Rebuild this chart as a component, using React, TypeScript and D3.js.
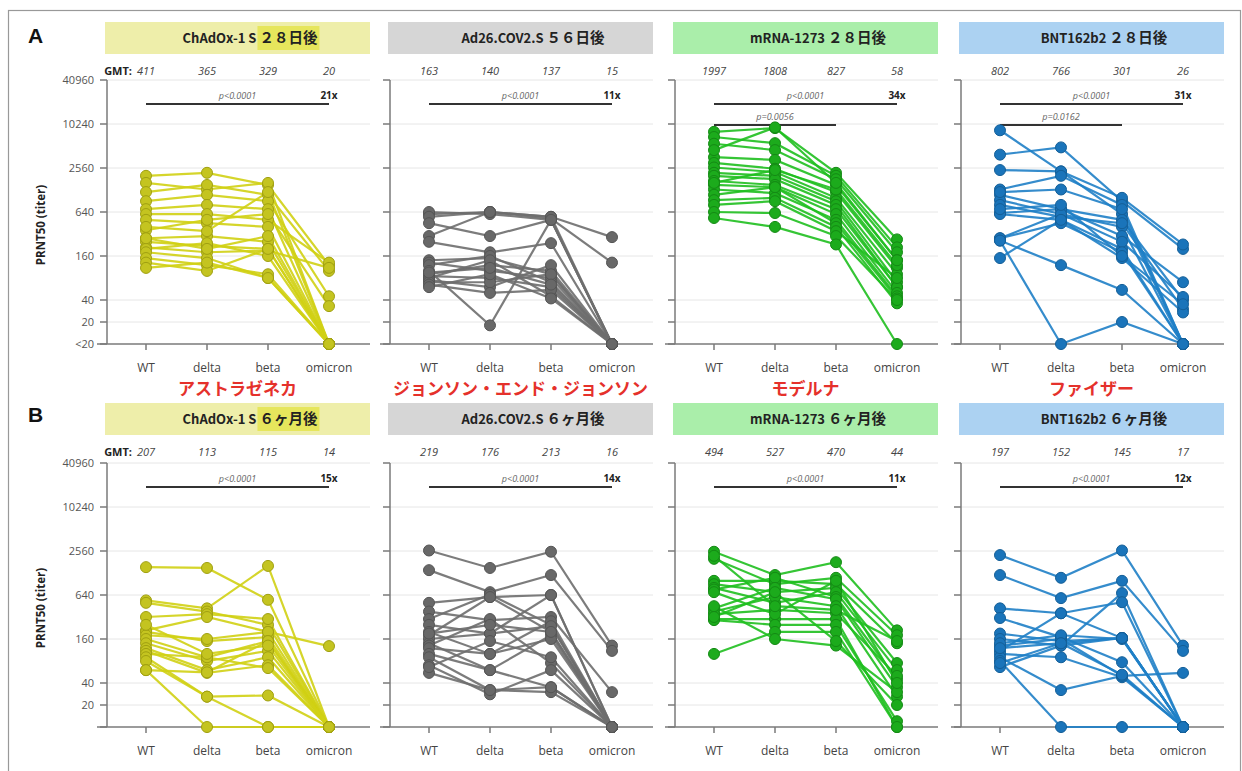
import React, { useEffect, useRef } from 'react';
import * as d3 from 'd3';

const categories = ['WT', 'delta', 'beta', 'omicron'];
const tickValues = [40960, 10240, 2560, 640, 160, 40, 20, 10];
const tickLabelsA = ['40960', '10240', '2560', '640', '160', '40', '20', '<20'];
const tickLabelsB = ['40960', '10240', '2560', '640', '160', '40', '20', ''];

const vaccines = ['ChAdOx-1 S', 'Ad26.COV2.S', 'mRNA-1273', 'BNT162b2'];
const timingA = ['２８日後', '５６日後', '２８日後', '２８日後'];
const timingB = ['６ヶ月後', '６ヶ月後', '６ヶ月後', '６ヶ月後'];
const makers = ['アストラゼネカ', 'ジョンソン・エンド・ジョンソン', 'モデルナ', 'ファイザー'];

const gmtA = [[411, 365, 329, 20], [163, 140, 137, 15], [1997, 1808, 827, 58], [802, 766, 301, 26]];
const gmtB = [[207, 113, 115, 14], [219, 176, 213, 16], [494, 527, 470, 44], [197, 152, 145, 17]];
const foldA = ['21x', '11x', '34x', '31x'];
const foldB = ['15x', '14x', '11x', '12x'];
const pMainA = ['p<0.0001', 'p<0.0001', 'p<0.0001', 'p<0.0001'];
const pMainB = ['p<0.0001', 'p<0.0001', 'p<0.0001', 'p<0.0001'];
const pSecondA = ['', '', 'p=0.0056', 'p=0.0162'];

// titers per subject: WT, delta, beta, omicron (<20 plotted as 10)
const chadox28 = [
  [2000, 2200, 1500, 120], [1600, 1300, 1600, 10], [1200, 1500, 1100, 100], [900, 1100, 900, 45],
  [700, 800, 700, 10], [600, 600, 500, 130], [500, 450, 400, 10], [360, 500, 600, 33],
  [280, 300, 250, 10], [250, 220, 200, 10], [210, 180, 190, 110], [200, 240, 160, 10],
  [180, 150, 80, 10], [150, 120, 90, 10], [130, 100, 200, 10], [110, 130, 80, 10],
  [280, 200, 300, 10], [400, 350, 1200, 10],
];
const ad26_56 = [
  [600, 640, 550, 290], [640, 600, 500, 10], [550, 640, 520, 130], [450, 300, 500, 10],
  [300, 640, 550, 10], [250, 180, 240, 10], [140, 150, 90, 10], [130, 100, 80, 10],
  [120, 160, 70, 10], [100, 18, 500, 10], [90, 120, 100, 10], [85, 80, 60, 10],
  [80, 140, 45, 10], [75, 60, 120, 10], [70, 70, 90, 10], [65, 50, 55, 10],
  [60, 90, 42, 10], [95, 110, 65, 10],
];
const mrna28 = [
  [8000, 9000, 2200, 270], [6800, 5600, 2000, 210], [5500, 4500, 1800, 180], [3600, 3300, 1500, 140],
  [3000, 2500, 1200, 110], [2600, 2250, 1000, 90], [2200, 2000, 900, 70], [2000, 1800, 800, 60],
  [1700, 1500, 700, 60], [1500, 1400, 600, 50], [1300, 1160, 500, 45], [1100, 1400, 450, 42],
  [930, 1000, 400, 36], [800, 900, 350, 80], [640, 620, 300, 40], [530, 400, 230, 10],
  [1600, 2400, 1300, 120], [4500, 9200, 1600, 140],
];
const bnt28 = [
  [8400, 2300, 600, 10], [3900, 4900, 900, 200], [2400, 2300, 1000, 230], [1300, 2000, 800, 10],
  [1100, 700, 500, 40], [930, 600, 400, 10], [800, 550, 450, 30], [620, 700, 300, 70],
  [600, 500, 200, 10], [1200, 1300, 700, 10], [280, 600, 250, 44], [280, 450, 180, 10],
  [260, 120, 55, 10], [260, 10, 20, 10], [150, 500, 150, 27], [700, 800, 160, 35],
];
const chadox6m = [
  [1540, 1500, 550, 10], [540, 420, 1600, 10], [500, 380, 250, 10], [320, 350, 300, 10],
  [210, 320, 200, 128], [200, 150, 170, 10], [180, 160, 200, 10], [160, 90, 150, 10],
  [140, 80, 110, 10], [120, 60, 90, 10], [110, 55, 70, 10], [100, 90, 64, 10],
  [90, 26, 27, 10], [80, 26, 10, 10], [60, 10, 10, 10], [60, 56, 150, 10],
  [250, 100, 130, 10],
];
const ad26_6m = [
  [2600, 1500, 2500, 130], [1400, 700, 1200, 110], [500, 600, 640, 10], [380, 290, 320, 30],
  [300, 650, 250, 10], [250, 190, 640, 10], [200, 100, 280, 10], [180, 600, 200, 10],
  [160, 190, 240, 10], [140, 60, 180, 10], [130, 300, 75, 10], [120, 100, 160, 10],
  [100, 60, 35, 10], [90, 32, 30, 10], [70, 28, 60, 10], [55, 32, 35, 10],
  [66, 150, 90, 10], [190, 250, 200, 10],
];
const mrna6m = [
  [2500, 1200, 1800, 210], [2000, 900, 1100, 180], [1000, 1000, 900, 140], [900, 700, 800, 75],
  [800, 500, 700, 60], [760, 1100, 600, 45], [420, 800, 560, 35], [380, 600, 450, 26],
  [350, 400, 360, 50], [300, 300, 300, 10], [290, 250, 250, 12], [100, 200, 200, 10],
  [450, 160, 130, 30], [700, 350, 1000, 40], [320, 700, 150, 20], [2200, 450, 400, 150],
];
const bnt6m = [
  [2250, 1100, 2600, 130], [1200, 580, 1000, 110], [420, 360, 165, 10], [310, 170, 77, 10],
  [190, 150, 165, 10], [160, 130, 680, 10], [130, 160, 50, 55], [110, 360, 510, 10],
  [100, 90, 48, 10], [90, 32, 50, 10], [80, 10, 10, 10], [66, 130, 165, 10],
  [140, 180, 160, 10], [120, 140, 52, 10], [75, 140, 165, 10],
];

const lineColors = ['#d0d014', '#6e6e6e', '#1fbf1f', '#1f7fc6'];
const dotFill = ['#c4c420', '#686868', '#1cab1c', '#1a74ba'];
const dotStroke = ['#a0a010', '#555555', '#148a14', '#145f98'];
const headerFill = ['#eeeeaa', '#d6d6d6', '#aaeeaa', '#acd2f2'];

const panelX = [107, 390, 675, 961];
const sans = '"Open Sans", "Noto Sans", sans-serif';
const jp = '"Noto Sans CJK JP", "Noto Sans", sans-serif';

const App = () => {
  const svgRef = useRef<SVGSVGElement>(null);

  useEffect(() => {
    const svg = d3.select(svgRef.current);
    svg.selectAll('*').remove();

    svg.append('rect').attr('width', 1242).attr('height', 771).attr('fill', '#fff');
    svg.append('rect')
      .attr('x', 8.5).attr('y', 10.5).attr('width', 1232).attr('height', 775)
      .attr('fill', 'none').attr('stroke', '#999').attr('stroke-width', 1.2);

    const rows = [
      { label: 'A', base: 344, data: [chadox28, ad26_56, mrna28, bnt28], gmt: gmtA, fold: foldA, p: pMainA, p2: pSecondA, timing: timingA, ticks: tickLabelsA },
      { label: 'B', base: 727, data: [chadox6m, ad26_6m, mrna6m, bnt6m], gmt: gmtB, fold: foldB, p: pMainB, p2: ['', '', '', ''], timing: timingB, ticks: tickLabelsB },
    ];

    rows.forEach((row, ri) => {
      const off = row.base - 344;
      const g = svg.append('g');

      g.append('text')
        .text(row.label)
        .attr('x', 28).attr('y', 43 + off - (ri ? 4 : 0))
        .attr('font-family', 'Arial, "Liberation Sans", sans-serif')
        .attr('font-weight', 'bold').attr('font-size', 21).attr('fill', '#111');

      g.append('text')
        .text('PRNT50 (titer)')
        .attr('transform', `translate(45,${225 + off}) rotate(-90)`)
        .attr('text-anchor', 'middle')
        .attr('font-family', sans).attr('font-weight', 'bold').attr('font-size', 11.5).attr('fill', '#222');

      row.data.forEach((subjects, p) => {
        const px = panelX[p];
        const x = d3.scalePoint().domain(categories).range([px + 39, px + 222]);
        const y = d3.scaleLog().base(2).domain([10, 40960]).range([row.base, row.base - 264]);

        // header
        g.append('rect')
          .attr('x', px - 2).attr('y', 22 + off - (ri ? 2 : 0)).attr('width', 265).attr('height', 32)
          .attr('fill', headerFill[p]);
        const header = g.append('text')
          .attr('x', px + 143).attr('y', 43 + off - (ri ? 2 : 0))
          .attr('text-anchor', 'middle')
          .attr('font-family', jp).attr('font-weight', 'bold').attr('font-size', 13).attr('fill', '#222');
        header.append('tspan').text(vaccines[p] + ' ');
        header.append('tspan').text(row.timing[p]).attr('font-size', 14.5);
        if (p === 0) {
          const node = header.node() as SVGTextElement;
          const start = vaccines[p].length + 1;
          const end = start + row.timing[p].length - 1;
          try {
            const a = node.getExtentOfChar(start);
            const b = node.getExtentOfChar(end);
            g.insert('rect', () => node)
              .attr('x', a.x - 2).attr('y', 26 + off - (ri ? 2 : 0))
              .attr('width', b.x + b.width - a.x + 4).attr('height', 24)
              .attr('fill', '#e6e65c');
          } catch (e) { /* ignore */ }
        }

        // grid
        tickValues.slice(0, 7).forEach(v => {
          g.append('line')
            .attr('x1', px).attr('x2', px + 263)
            .attr('y1', y(v)).attr('y2', y(v))
            .attr('stroke', '#e6e6e6').attr('stroke-width', 1);
        });

        // y axis
        g.append('line')
          .attr('x1', px).attr('x2', px).attr('y1', y(40960)).attr('y2', row.base)
          .attr('stroke', '#7a7a7a').attr('stroke-width', 1.5);
        tickValues.forEach((v, i) => {
          g.append('line')
            .attr('x1', px - 7).attr('x2', px).attr('y1', y(v)).attr('y2', y(v))
            .attr('stroke', '#7a7a7a').attr('stroke-width', 1.5);
          if (p === 0 && row.ticks[i]) {
            g.append('text')
              .text(row.ticks[i])
              .attr('x', px - 13).attr('y', y(v) + 4)
              .attr('text-anchor', 'end')
              .attr('font-family', sans).attr('font-size', 11).attr('fill', '#555');
          }
        });

        // x axis
        g.append('line')
          .attr('x1', px - 10).attr('x2', px + 263).attr('y1', row.base).attr('y2', row.base)
          .attr('stroke', '#7a7a7a').attr('stroke-width', 1.5);
        categories.forEach(c => {
          g.append('line')
            .attr('x1', x(c)).attr('x2', x(c)).attr('y1', row.base).attr('y2', row.base + 6)
            .attr('stroke', '#7a7a7a').attr('stroke-width', 1.5);
          g.append('text')
            .text(c)
            .attr('x', x(c)).attr('y', row.base + 28)
            .attr('text-anchor', 'middle')
            .attr('font-family', sans).attr('font-size', 12).attr('fill', '#444');
        });

        // GMT row
        if (p === 0) {
          g.append('text')
            .text('GMT:')
            .attr('x', px + 25).attr('y', 75 + off - (ri ? 2 : 0))
            .attr('text-anchor', 'end')
            .attr('font-family', sans).attr('font-weight', 'bold').attr('font-size', 11).attr('fill', '#222');
        }
        categories.forEach((c, i) => {
          g.append('text')
            .text(row.gmt[p][i])
            .attr('x', x(c)).attr('y', 75 + off - (ri ? 2 : 0))
            .attr('text-anchor', 'middle')
            .attr('font-family', sans).attr('font-style', 'italic').attr('font-size', 11).attr('fill', '#444');
        });

        // significance
        const sy = 104 + off;
        g.append('line')
          .attr('x1', x('WT')).attr('x2', x('omicron')).attr('y1', sy).attr('y2', sy)
          .attr('stroke', '#333').attr('stroke-width', 2);
        g.append('text')
          .text(row.p[p])
          .attr('x', (x('WT')! + x('omicron')!) / 2).attr('y', sy - 5)
          .attr('text-anchor', 'middle')
          .attr('font-family', sans).attr('font-style', 'italic').attr('font-size', 9).attr('fill', '#666');
        g.append('text')
          .text(row.fold[p])
          .attr('x', x('omicron')).attr('y', sy - 5)
          .attr('text-anchor', 'middle')
          .attr('font-family', sans).attr('font-weight', 'bold').attr('font-size', 10).attr('fill', '#222');
        if (row.p2[p]) {
          g.append('line')
            .attr('x1', x('WT')).attr('x2', x('beta')).attr('y1', sy + 21).attr('y2', sy + 21)
            .attr('stroke', '#333').attr('stroke-width', 2);
          g.append('text')
            .text(row.p2[p])
            .attr('x', x('delta')).attr('y', sy + 16)
            .attr('text-anchor', 'middle')
            .attr('font-family', sans).attr('font-style', 'italic').attr('font-size', 9).attr('fill', '#666');
        }

        // subject lines
        const line = d3.line<number>()
          .x((_, i) => x(categories[i])!)
          .y(v => y(v));
        g.append('g').selectAll('path')
          .data(subjects)
          .enter().append('path')
          .attr('d', d => line(d))
          .attr('fill', 'none')
          .attr('stroke', lineColors[p])
          .attr('stroke-width', 2.2)
          .attr('opacity', 0.9);

        const pts: { c: string; v: number }[] = [];
        subjects.forEach(s => s.forEach((v, i) => pts.push({ c: categories[i], v })));
        g.append('g').selectAll('circle')
          .data(pts)
          .enter().append('circle')
          .attr('cx', d => x(d.c)!)
          .attr('cy', d => y(d.v))
          .attr('r', 5.5)
          .attr('fill', dotFill[p])
          .attr('stroke', dotStroke[p])
          .attr('stroke-width', 1);

        // maker label
        if (ri === 0) {
          g.append('text')
            .text(makers[p])
            .attr('x', (x('WT')! + x('omicron')!) / 2).attr('y', 395)
            .attr('text-anchor', 'middle')
            .attr('font-family', jp).attr('font-weight', 'bold').attr('font-size', 17).attr('fill', '#e5312b');
        }
      });
    });
  }, []);

  return (
    <svg ref={svgRef} width={1242} height={771} style={{ position: 'absolute', left: 0, top: 0 }}></svg>
  );
};

export default App;
